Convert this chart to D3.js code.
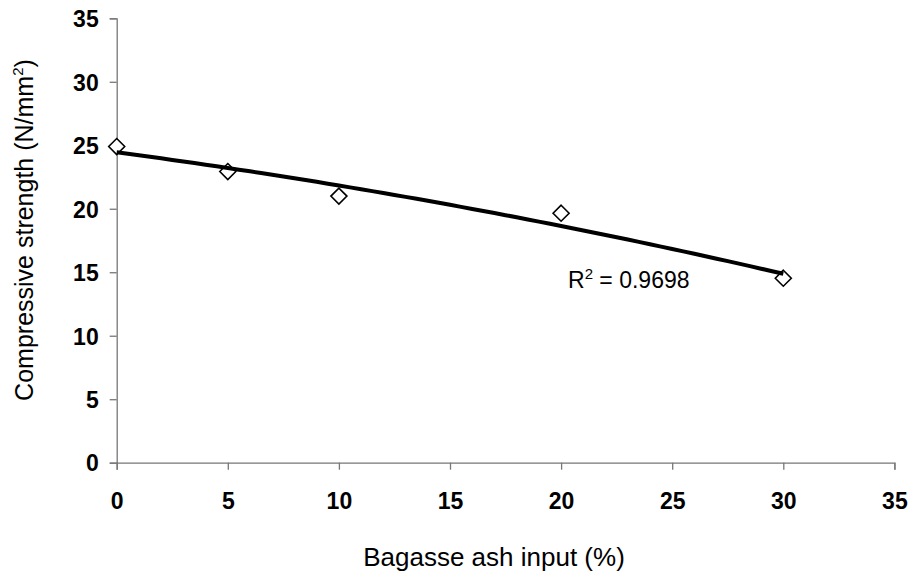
<!DOCTYPE html>
<html>
<head>
<meta charset="utf-8">
<script src="https://cdn.jsdelivr.net/npm/d3@7/dist/d3.min.js"></script>
<style>
  html, body { margin: 0; padding: 0; background: #fff; }
  svg { display: block; }
  text { font-family: "Liberation Sans", Arial, sans-serif; }
</style>
</head>
<body>
<svg id="chart" width="913" height="578"></svg>
<script>
// ---- data ----
const ashInput = [0, 5, 10, 20, 30];
const strength = [24.9, 22.93, 21.0, 19.65, 14.53];
const xTicks = [0, 5, 10, 15, 20, 25, 30, 35];
const yTicks = [0, 5, 10, 15, 20, 25, 30, 35];
const rSquaredLabel = "0.9698";

// ---- quadratic least-squares trendline from the data ----
function polyFit2(xs, ys) {
  const n = xs.length;
  let s = [0, 0, 0, 0, 0], t = [0, 0, 0];
  for (let i = 0; i < n; i++) {
    const x = xs[i], y = ys[i];
    for (let k = 0; k <= 4; k++) s[k] += Math.pow(x, k);
    for (let k = 0; k <= 2; k++) t[k] += Math.pow(x, k) * y;
  }
  const A = [[s[0], s[1], s[2], t[0]], [s[1], s[2], s[3], t[1]], [s[2], s[3], s[4], t[2]]];
  for (let i = 0; i < 3; i++) {
    for (let j = i + 1; j < 3; j++) {
      const f = A[j][i] / A[i][i];
      for (let k = i; k < 4; k++) A[j][k] -= f * A[i][k];
    }
  }
  const c = [0, 0, 0];
  for (let i = 2; i >= 0; i--) {
    let v = A[i][3];
    for (let k = i + 1; k < 3; k++) v -= A[i][k] * c[k];
    c[i] = v / A[i][i];
  }
  return c;
}
const coef = polyFit2(ashInput, strength);
const trendX = d3.range(0, 30.001, 0.5);

// ---- scales ----
const svg = d3.select("#chart");
const x = d3.scaleLinear().domain([0, 35]).range([116.7, 894.4]);
const y = d3.scaleLinear().domain([0, 35]).range([462.7, 18.3]);
const axisColor = "#777";

// axes
const xAxis = svg.append("g").attr("transform", `translate(0,${y(0)})`)
  .call(d3.axisBottom(x).tickValues(xTicks).tickSize(7).tickFormat(d3.format("d")));
const yAxis = svg.append("g").attr("transform", `translate(${x(0)},0)`)
  .call(d3.axisLeft(y).tickValues(yTicks).tickSize(7).tickPadding(11).tickFormat(d3.format("d")));
[xAxis, yAxis].forEach(g => {
  g.select(".domain").attr("stroke", axisColor).attr("stroke-width", 1.3);
  g.selectAll(".tick line").attr("stroke", axisColor).attr("stroke-width", 1.3);
  g.selectAll(".tick text").attr("fill", "#000").attr("font-size", 23).attr("font-weight", "bold")
    .attr("font-family", "Liberation Sans, Arial, sans-serif");
});
xAxis.selectAll(".tick text").attr("y", 38).attr("dy", "0.36em");
yAxis.selectAll(".tick text").attr("dy", "0.36em");

// markers
const diamond = r => `M0,${-r}L${r},0L0,${r}L${-r},0Z`;
svg.append("g").selectAll("path").data(ashInput).join("path")
  .attr("d", diamond(8))
  .attr("transform", (d, i) => `translate(${x(d)},${y(strength[i])})`)
  .attr("fill", "#fff").attr("stroke", "#000").attr("stroke-width", 1.6);

// trendline
const line = d3.line().x(d => x(d)).y(d => y(coef[0] + coef[1] * d + coef[2] * d * d));
svg.append("path").datum(trendX).attr("d", line)
  .attr("fill", "none").attr("stroke", "#000").attr("stroke-width", 4)
  .attr("stroke-linejoin", "round").attr("stroke-linecap", "butt");

// R² label
const rt = svg.append("text").attr("x", 568).attr("y", 288).attr("font-size", 23).attr("fill", "#000");
rt.append("tspan").text("R");
rt.append("tspan").attr("font-size", 15).attr("dy", -9).text("2");
rt.append("tspan").attr("dy", 9).text(" = " + rSquaredLabel);

// axis titles
svg.append("text").attr("x", 494).attr("y", 566).attr("text-anchor", "middle")
  .attr("font-size", 26).attr("fill", "#000").text("Bagasse ash input (%)");
const yt = svg.append("text").attr("transform", "translate(33,230) rotate(-90)")
  .attr("text-anchor", "middle").attr("font-size", 25).attr("fill", "#000");
yt.append("tspan").text("Compressive strength (N/mm");
yt.append("tspan").attr("font-size", 15).attr("dy", -10).text("2");
yt.append("tspan").attr("dy", 10).text(")");
</script>
</body>
</html>
